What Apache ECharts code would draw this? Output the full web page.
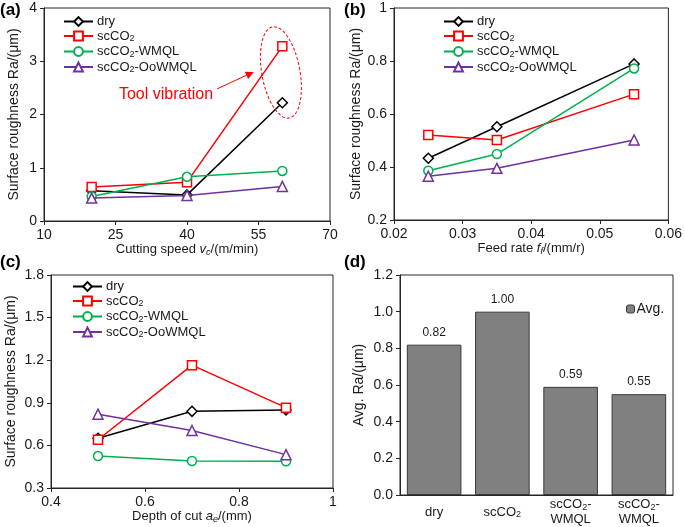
<!DOCTYPE html>
<html><head><meta charset="utf-8">
<script src="https://cdn.jsdelivr.net/npm/echarts@6/dist/echarts.min.js"></script>
<style>html,body{margin:0;padding:0;background:#fff}#c{width:685px;height:527px}</style>
</head><body><div id="c"></div>
<script>
// ---------- data ----------
const seriesNames = ['dry', 'scCO2', 'scCO2-WMQL', 'scCO2-OoWMQL'];

const speedX = [20, 40, 60];
const speedDry = [0.57, 0.49, 2.22];
const speedScCO2 = [0.64, 0.73, 3.28];
const speedWMQL = [0.46, 0.83, 0.94];
const speedOoWMQL = [0.43, 0.48, 0.65];

const feedX = [0.025, 0.035, 0.055];
const feedDry = [0.433, 0.552, 0.789];
const feedScCO2 = [0.521, 0.502, 0.675];
const feedWMQL = [0.386, 0.449, 0.772];
const feedOoWMQL = [0.365, 0.395, 0.502];

const depthX = [0.5, 0.7, 0.9];
const depthDry = [0.65, 0.84, 0.85];
const depthScCO2 = [0.64, 1.165, 0.866];
const depthWMQL = [0.525, 0.49, 0.488];
const depthOoWMQL = [0.82, 0.705, 0.535];

const avgCategories = ['dry', 'scCO2', 'scCO2-\nWMQL', 'scCO2-\nWMQL'];
const avgValues = [0.82, 1.00, 0.59, 0.55];

// ---------- styling ----------
const FONT = '"Liberation Sans", Arial, sans-serif';
const TXT = '#1a1a1a';
const AX = '#262626';
const styles = [
  { color: '#000000', symbol: 'diamond', size: 10 },
  { color: '#ff0000', symbol: 'rect', size: 9 },
  { color: '#00b050', symbol: 'circle', size: 9 },
  { color: '#7030a0', symbol: 'triangle', size: 10 }
];

function rich(name) {
  const parts = name.split('CO2');
  return parts.map(p => p ? '{n|' + p + '}' : '').join('{n|CO}{s|2}');
}
function richLines(name) {
  return name.split('\n').map(rich).join('\n');
}
const richStyle = (fs) => ({
  n: { fontSize: fs, fontFamily: FONT, color: TXT, lineHeight: 15 },
  i: { fontSize: fs, fontFamily: FONT, color: TXT, fontStyle: 'italic', lineHeight: 15 },
  s: { fontSize: 9, fontFamily: FONT, color: TXT, lineHeight: 9, verticalAlign: 'bottom' },
  si: { fontSize: 9, fontFamily: FONT, color: TXT, fontStyle: 'italic', lineHeight: 9, verticalAlign: 'bottom' }
});

const grids = [
  { left: 44, top: 8, width: 286, height: 213 },
  { left: 394, top: 8, width: 277, height: 212 },
  { left: 51, top: 275, width: 282, height: 213 },
  { left: 400, top: 275, width: 273, height: 221 }
];

function valueAxis(gi, min, max, interval, extra) {
  return Object.assign({
    type: 'value', gridIndex: gi, min: min, max: max, interval: interval,
    axisLine: { show: true, onZero: false, lineStyle: { color: AX, width: 1 } },
    axisTick: { show: true, inside: false, length: 4, lineStyle: { color: AX } },
    axisLabel: { fontSize: 14, fontFamily: FONT, color: TXT, margin: 7 },
    splitLine: { show: false },
    nameLocation: 'middle'
  }, extra);
}

const xAxes = [
  valueAxis(0, 10, 70, 15, { name: '{n|Cutting speed }{i|v}{si|c}{n|/(m/min)}', nameGap: 20,
    nameTextStyle: { rich: richStyle(13) } }),
  valueAxis(1, 0.02, 0.06, 0.01, { name: '{n|Feed rate }{i|f}{si|f}{n|/(mm/r)}', nameGap: 20,
    nameTextStyle: { rich: richStyle(13) } }),
  valueAxis(2, 0.4, 1, 0.2, { name: '{n|Depth of cut }{i|a}{si|e}{n|/(mm)}', nameGap: 20,
    nameTextStyle: { rich: richStyle(13) } }),
  {
    type: 'category', gridIndex: 3, data: avgCategories,
    axisLine: { show: true, lineStyle: { color: AX } },
    axisTick: { show: false },
    axisLabel: { interval: 0, margin: 17, verticalAlign: 'middle', lineHeight: 15,
      formatter: (v) => richLines(v), rich: richStyle(13) },
    splitLine: { show: false }
  }
];

const yNameStyle = { fontSize: 14, fontFamily: FONT, color: TXT };
const yAxes = [
  valueAxis(0, 0, 4, 1, { name: 'Surface roughness Ra/(μm)', nameGap: 23, nameTextStyle: yNameStyle }),
  valueAxis(1, 0.2, 1, 0.2, { name: 'Surface roughness Ra/(μm)', nameGap: 28, nameTextStyle: yNameStyle }),
  valueAxis(2, 0.3, 1.8, 0.3, { name: 'Surface roughness Ra/(μm)', nameGap: 33, nameTextStyle: yNameStyle }),
  valueAxis(3, 0, 1.2, 0.2, { name: 'Avg. Ra/(μm)', nameGap: 34, nameTextStyle: yNameStyle,
    axisLabel: { fontSize: 14, fontFamily: FONT, color: TXT, margin: 7, formatter: v => v.toFixed(1) } })
];

function pairs(xs, ys) { return xs.map((x, k) => [x, ys[k]]); }
const panelData = [
  [speedX, [speedDry, speedScCO2, speedWMQL, speedOoWMQL]],
  [feedX, [feedDry, feedScCO2, feedWMQL, feedOoWMQL]],
  [depthX, [depthDry, depthScCO2, depthWMQL, depthOoWMQL]]
];

const series = [];
panelData.forEach((pd, gi) => {
  pd[1].forEach((ys, si) => {
    const st = styles[si];
    series.push({
      type: 'line', name: seriesNames[si], xAxisIndex: gi, yAxisIndex: gi,
      data: pairs(pd[0], ys),
      symbol: st.symbol, symbolSize: st.size, showAllSymbol: true,
      lineStyle: { color: st.color, width: 1.5 },
      itemStyle: { color: '#ffffff', borderColor: st.color, borderWidth: 1.5 },
      emphasis: { disabled: true }, animation: false, z: 2 + si
    });
  });
});
series.push({
  type: 'bar', name: 'Avg.', xAxisIndex: 3, yAxisIndex: 3, data: avgValues,
  barCategoryGap: '20%',
  itemStyle: { color: '#808080', borderColor: '#3a3a3a', borderWidth: 1 },
  label: { show: true, position: 'top', distance: 6, fontSize: 12, fontFamily: FONT, color: TXT,
    formatter: p => p.value.toFixed(2) },
  emphasis: { disabled: true }, animation: false
});

function lineLegend(left, top) {
  return {
    left: left, top: top, orient: 'vertical', data: seriesNames, padding: 0,
    itemWidth: 29, itemHeight: 11, itemGap: 1.5, selectedMode: false,
    formatter: (n) => rich(n),
    textStyle: { fontSize: 13, fontFamily: FONT, color: TXT, rich: richStyle(13), padding: [0, 0, 0, -1] }
  };
}

const option = {
  backgroundColor: '#ffffff',
  animation: false,
  grid: grids.map(g => Object.assign({ show: true, borderColor: AX, borderWidth: 1, backgroundColor: 'transparent' }, g)),
  xAxis: xAxes,
  yAxis: yAxes,
  legend: [
    lineLegend(63, 15),
    lineLegend(443, 15),
    lineLegend(72, 280),
    {
      left: 626, top: 302, data: ['Avg.'], padding: 0, itemWidth: 8, itemHeight: 8, itemGap: 0, selectedMode: false,
      itemStyle: { color: '#808080', borderColor: '#3a3a3a', borderWidth: 1 },
      textStyle: { fontSize: 14, fontFamily: FONT, color: TXT, padding: [0, 0, 0, -3] }
    }
  ],
  series: series
};

const chart = echarts.init(document.getElementById('c'), null, { renderer: 'canvas' });
chart.setOption(option);

// ---------- annotations positioned via the axis scales ----------
const toPx = (x, y) => chart.convertToPixel({ gridIndex: 0 }, [x, y]);
const ellC = toPx(59.7, 2.79);
const ellR = toPx(59.7 + 4.0, 2.79 - 0.87);
const a1 = toPx(46.3, 2.48);
const a2 = toPx(54.0, 2.80);
const txt = toPx(35.6, 2.37);
const ang = Math.atan2(a2[1] - a1[1], a2[0] - a1[0]);
const hl = 8, hw = 4;
const tip = a2;
const baseX = tip[0] - hl * Math.cos(ang), baseY = tip[1] - hl * Math.sin(ang);
const head = [
  tip,
  [baseX + hw * Math.sin(ang), baseY - hw * Math.cos(ang)],
  [baseX - hw * Math.sin(ang), baseY + hw * Math.cos(ang)]
];

const labelStyle = { fontSize: 17, fontWeight: 'bold', fontFamily: FONT, fill: '#000' };
chart.setOption({
  graphic: [
    { type: 'ellipse', x: ellC[0], y: ellC[1], rotation: 0.18,
      shape: { cx: 0, cy: 0, rx: ellR[0] - ellC[0], ry: ellR[1] - ellC[1] },
      style: { fill: 'none', stroke: '#ff0000', lineWidth: 1, lineDash: [3, 2] }, z: 10 },
    { type: 'line', shape: { x1: a1[0], y1: a1[1], x2: baseX, y2: baseY },
      style: { stroke: '#ff0000', lineWidth: 1 }, z: 10 },
    { type: 'polygon', shape: { points: head }, style: { fill: '#ff0000' }, z: 10 },
    { type: 'text', x: txt[0], y: txt[1],
      style: { text: 'Tool vibration', fontSize: 16, fontFamily: FONT, fill: '#ff0000', align: 'center', verticalAlign: 'middle' }, z: 10 },
    { type: 'text', x: 0, y: 10, style: Object.assign({ text: '(a)', verticalAlign: 'middle' }, labelStyle) },
    { type: 'text', x: 344, y: 10, style: Object.assign({ text: '(b)', verticalAlign: 'middle' }, labelStyle) },
    { type: 'text', x: 0, y: 262, style: Object.assign({ text: '(c)', verticalAlign: 'middle' }, labelStyle) },
    { type: 'text', x: 344, y: 262, style: Object.assign({ text: '(d)', verticalAlign: 'middle' }, labelStyle) }
  ]
});
</script>
</body></html>
